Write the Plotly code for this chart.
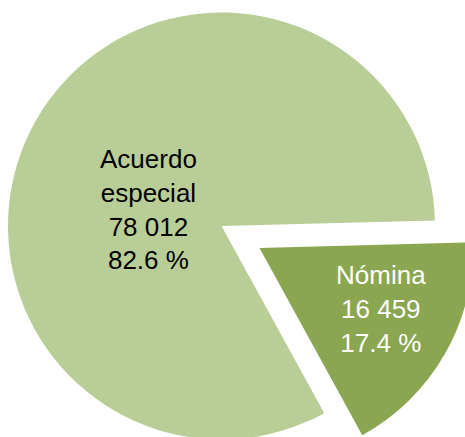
import plotly.graph_objects as go

# data
labels = ["Nómina", "Acuerdo especial"]
values = [16459, 78012]
colors = ["#8AA650", "#B9CE97"]
text_colors = ["white", "black"]

total = sum(values)
pcts = [v / total * 100 for v in values]

W, H = 480, 470
R = 213.5
# pie centres in px (Nómina is exploded away from the main pie)
centres = [(259.5, 248), (221.5, 226)]
text_pos = [(381, 309), (148, 209)]


def slice_text(i):
    name = labels[i].replace(" ", "<br>")
    val = f"{values[i]:,}".replace(",", " ")
    return f"{name}<br>{val}<br>{pcts[i]:.1f} %"


fig = go.Figure()

# one pie trace per slice so that the exploded slice keeps the full radius
for i in range(len(values)):
    cx, cy = centres[i]
    fig.add_trace(go.Pie(
        labels=labels,
        values=values,
        sort=False,
        direction="clockwise",
        rotation=88.5,
        marker=dict(colors=[colors[j] if j == i else "rgba(0,0,0,0)"
                            for j in range(len(values))],
                    line=dict(width=0)),
        textinfo="none",
        hoverinfo="skip",
        showlegend=False,
        domain=dict(x=[max(0, (cx - R) / W), min(1, (cx + R) / W)],
                    y=[max(0, 1 - (cy + R) / H), min(1, 1 - (cy - R) / H)]),
    ))

for i in range(len(values)):
    tx, ty = text_pos[i]
    fig.add_annotation(
        text=slice_text(i), x=tx / W, y=1 - ty / H, xref="paper", yref="paper",
        showarrow=False, xanchor="center", yanchor="middle", align="center",
        font=dict(family="Arial, Liberation Sans", size=26, color=text_colors[i]),
    )

fig.update_layout(
    width=W, height=H,
    margin=dict(l=0, r=0, t=0, b=0),
    paper_bgcolor="white",
    plot_bgcolor="white",
    showlegend=False,
)

# the figure is a bit larger than the window: no page margin, no scrollbars
fig.write_html(
    "out.html",
    config={"displayModeBar": False},
    post_script="document.body.style.margin = '0'; document.body.style.overflow = 'hidden';",
)
